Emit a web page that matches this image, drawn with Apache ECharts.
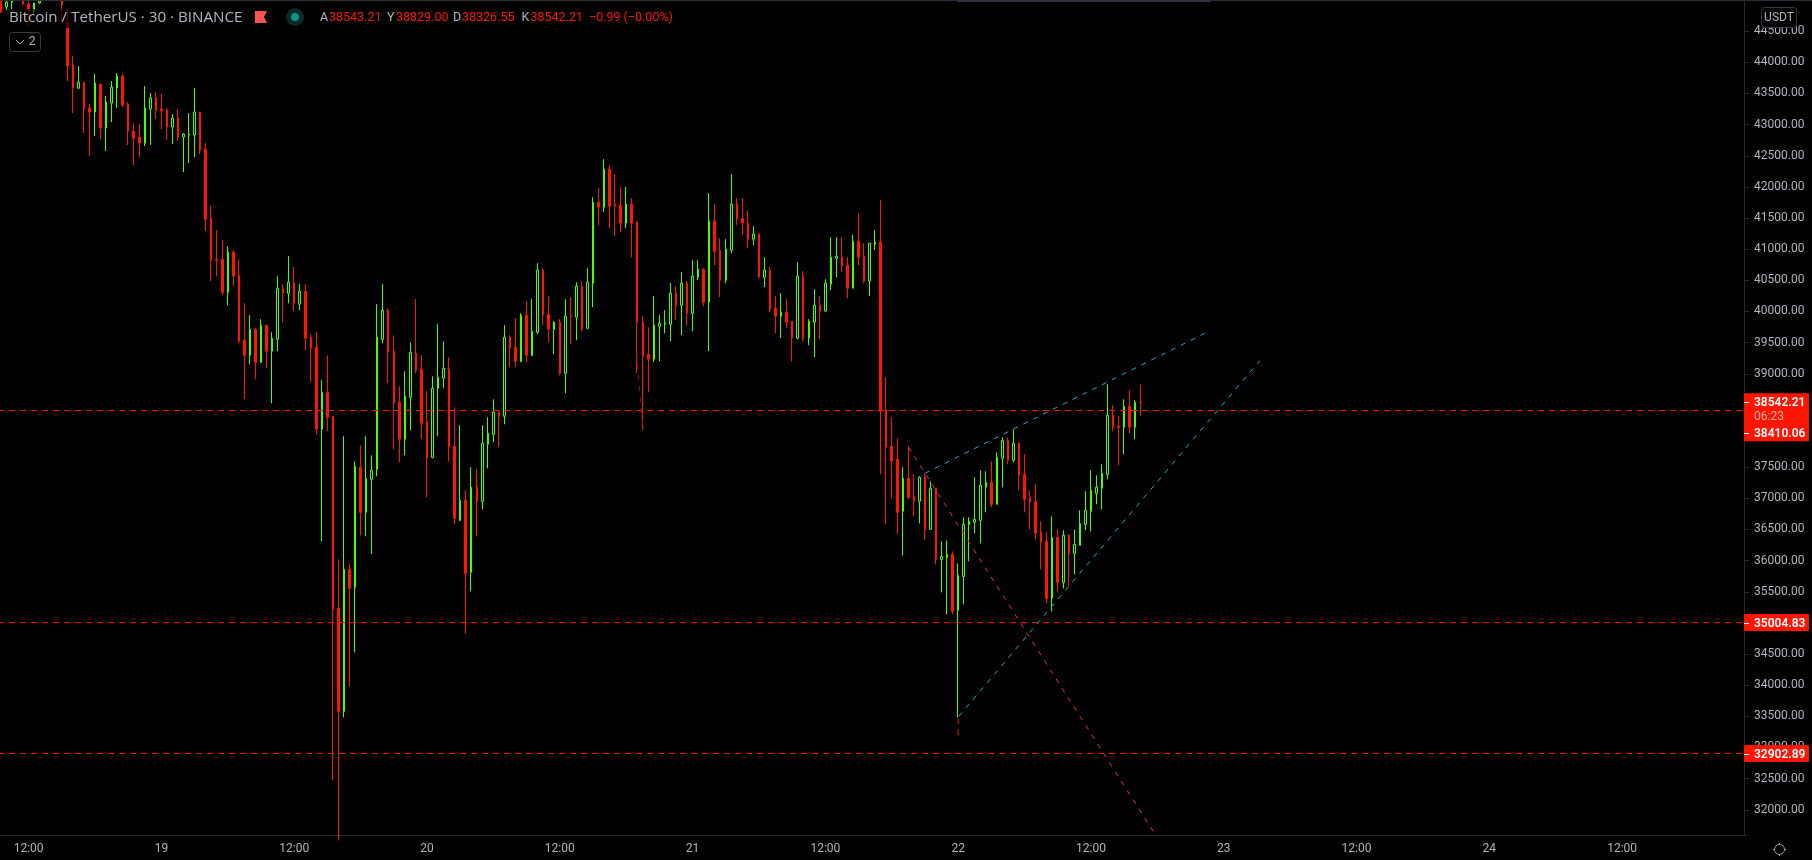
<!DOCTYPE html>
<html lang="en">
<head>
    <meta charset="UTF-8">
    <title>Bitcoin / TetherUS</title>
    <style>
        html, body { margin: 0; padding: 0; background: #000; }
    </style>
</head>
<body>
    <div id="main" style="width: 1812px;height:860px;"></div>

    <script src="https://cdn.jsdelivr.net/npm/echarts@6/dist/echarts.min.js"></script>
    <script type="text/javascript">
        // 30 minute candles
        var opens = [
            45080,44888,44968,45200,45020,44936,44823,44952,45150,45200,
            45300,44984,44647,43956,43586,43683,43265,43201,43651,42944,
            43345,43586,43779,43329,42896,42799,42703,43249,43426,43249,
            43233,42960,43104,42799,42831,42831,43201,42606,41498,40839,
            40839,40309,40952,40582,39538,39297,39715,39185,39779,39362,
            39554,40358,40293,40454,40117,40325,39586,39426,38109,38703,
            38317,35233,33578,35860,35570,37498,36775,37305,37466,39554,
            40020,39362,38542,37948,38622,39329,39072,38221,37659,38767,
            38928,39072,37835,36647,36968,35811,37177,36952,37868,38028,
            38382,38317,39586,39426,39201,39940,39297,39667,40663,39956,
            39715,39827,39008,39924,39908,40406,39731,40454,41755,41675,
            42285,41723,41707,41418,41723,41434,39827,39313,39233,39763,
            39795,39795,40293,40100,40454,39972,40550,40679,40149,41450,
            40984,40502,40984,41723,41498,41418,41161,41241,40550,40663,
            40052,39924,39988,39843,39570,40566,39570,39827,40100,40004,
            40438,40855,40871,40743,40374,41129,40888,40486,41080,41112,
            38430,37835,37627,36791,37321,37032,36952,37337,36502,37161,
            36020,36052,36101,35201,35747,36582,36615,36647,37177,37257,
            36904,37643,37932,37611,37884,37386,37016,36952,36454,36309,
            35394,36373,35651,36406,36117,36245,36582,36791,37080,37161,
            37386,38333,38157,38141,38478,38141,38543.21
        ];
        var closes = [
            44807,44968,44984,45100,44936,44823,44952,44984,45200,45300,
            45150,44920,43940,43586,43683,43249,43201,43667,42944,43361,
            43602,43779,43313,42896,42783,42703,43265,43426,43233,43217,
            42960,43104,42799,42847,42847,43201,42590,41482,40823,40823,
            40309,40952,40566,39522,39297,39715,39185,39779,39362,39570,
            40374,40293,40470,40133,40325,39570,39410,38109,38703,38301,
            35217,33578,35860,35554,37514,36775,37321,37450,39586,40020,
            39345,38526,37948,38639,39345,39056,38205,37643,38767,38944,
            39088,37819,36679,36968,35795,37177,36952,37884,38044,38382,
            38317,39586,39410,39201,39940,39297,39683,40663,39940,39715,
            39827,39008,39924,39908,40406,39715,40470,41755,41675,42285,
            41691,41691,41418,41723,41418,39827,39297,39233,39779,39811,
            39811,40293,40100,40454,39972,40566,40679,40149,41450,40968,
            40502,41000,41723,41482,41418,41161,41241,40550,40663,40036,
            39924,39988,39827,39570,40566,39570,39843,40100,40004,40454,
            40871,40888,40727,40374,41129,40871,40486,41096,41112,38398,
            37819,37594,36775,37321,37016,36952,37337,36502,37161,36020,
            36068,36101,35185,35763,36582,36631,36663,37209,37257,36904,
            37659,37932,37611,37884,37369,36984,36936,36438,36293,35394,
            36373,35651,36406,36117,36261,36598,36807,37129,37177,37402,
            38333,38141,38141,38478,38141,38542,38542.21
        ];
        var highs = [
            45100,45000,45000,45300,45050,45000,44952,45000,45300,45350,
            45350,45060,44855,44100,43940,43683,43329,43811,43651,43458,
            43699,43827,43811,43361,43024,43008,43618,43506,43522,43490,
            43265,43169,43249,42863,43185,43586,43201,42703,41691,41305,
            41145,41048,40984,40839,40133,39940,39731,39876,39779,39667,
            40566,40438,40888,40711,40438,40438,39635,39667,38896,39297,
            38317,36020,37996,35940,37594,37851,37996,37691,40117,40438,
            40052,39619,38799,39040,39506,40197,39297,38719,38960,39795,
            39522,39265,38462,38173,37129,37498,37466,38173,38301,38590,
            38414,39779,39619,39892,39972,40165,40197,40775,40695,40245,
            39843,39876,40197,40229,40470,40486,40695,41835,41980,42446,
            42349,42205,41996,41996,41819,41450,39924,39747,40245,39940,
            40020,40454,40406,40631,40486,40823,40823,40695,41900,41723,
            41177,41161,42205,41819,41819,41627,41370,41257,40871,40711,
            40245,40293,40197,39843,40791,40647,39876,40357,40245,40518,
            41193,41193,41193,40871,41225,41578,41096,41096,41305,41787,
            38944,38301,37964,37498,37835,37386,37354,37402,37273,37161,
            36309,36325,36149,35956,36695,36695,37337,37450,37434,37594,
            37739,37980,37980,38108,37900,37707,37129,37225,36631,36454,
            36711,36502,36486,36422,36502,36807,37113,37450,37370,37546,
            38831,38494,38317,38590,38735,38574,38829
        ];
        var lows = [
            44791,44839,44839,45050,44920,44582,44759,44936,45050,45100,
            45080,44647,43699,43185,43570,42863,42494,42815,42767,42574,
            43040,43265,43281,42671,42349,42478,42655,42671,43088,42928,
            42751,42687,42735,42237,42382,42478,42526,41289,40486,40566,
            40261,40100,40406,39490,38590,39153,38912,39169,39088,38526,
            39362,39827,40133,40004,40020,39378,38864,38028,36309,38076,
            32470,31506,33482,33980,34526,36406,36390,36101,37354,39490,
            38847,37787,37578,37691,38092,39008,37948,37016,37643,37996,
            38767,37594,36582,36631,34831,35506,36390,36823,37482,37900,
            37819,38189,39104,39104,39185,39185,39281,39635,39779,39506,
            39313,38976,38687,39474,39538,39683,39715,40068,41386,41594,
            41337,41209,41273,41337,40871,39008,38092,38703,39185,39201,
            39651,39522,39859,39619,39779,39683,40502,40084,39362,40743,
            40229,40454,40936,41386,41225,41016,41064,40534,40390,39988,
            39651,39570,39731,39201,39554,39522,39458,39265,39554,40004,
            40341,40550,40631,40213,40374,40743,40454,40245,40984,37386,
            36582,37000,36422,36084,36984,36711,36598,36325,36502,35940,
            35490,35137,35137,33482,35297,35988,36438,36277,36775,36856,
            36904,37177,37546,37578,37129,36775,36502,36341,35859,35313,
            35185,35490,35554,35587,35779,36245,36486,36470,36904,36823,
            37305,38076,37530,37707,38044,37948,38326.55
        ];

        // time axis: one slot per 30 minutes, with room to the right of the last candle
        var slotCount = 316;
        var xTickSlots = [5, 29, 53, 77, 101, 125, 149, 173, 197, 221, 245, 269, 293];
        var xTickLabels = ['12:00', '19', '12:00', '20', '12:00', '21', '12:00', '22', '12:00', '23', '12:00', '24', '12:00'];

        var yTicks = [32000, 32500, 33000, 33500, 34000, 34500, 35000, 35500, 36000, 36500, 37000, 37500, 38000,
            38500, 39000, 39500, 40000, 40500, 41000, 41500, 42000, 42500, 43000, 43500, 44000, 44500];

        // horizontal levels
        var levels = [38410.06, 35004.83, 32902.89];
        var currentPrice = 38542.21;
        var countdown = '06:23';

        // hand drawn lines, as [slot, price]
        var redDiagonal = [[164, 37824], [208.36, 31640]];
        var cyanUpper = [[167, 37402], [217.6, 39651]];
        var cyanLower = [[173.1, 33498], [227.5, 39209]];
        var redStub = [[173, 33466], [173, 33176]];
        var dimStub = [[114.9, 39329], [115.95, 38173]];

        var legendValues = ['38543.21', '38829.00', '38326.55', '38542.21'];
        var legendLetters = ['A', 'Y', 'D', 'K'];
        var legendChange = '\u22120.99 (\u22120.00%)';

        var FONT = 'Roboto, "Liberation Sans", sans-serif';
        var RED = '#ff1500';
        var GREEN = '#48ff00';
        var TEXT = '#b2b5be';
        var LINE = '#2a2a2e';

        var slotWidth = 5.533;
        var gridLeft = -1.83;
        var gridHeight = 835;
        var axisX = 1744;
        var gridWidth = slotCount * slotWidth;

        var categories = [];
        for (var i = 0; i < slotCount; i++) {
            categories.push(String(i));
        }
        var candles = [];
        for (var j = 0; j < opens.length; j++) {
            candles.push([opens[j], closes[j], lows[j], highs[j]]);
        }

        function trendSeries(points, color, dash) {
            return {
                type: 'line',
                xAxisIndex: 1,
                data: points,
                symbol: 'none',
                silent: true,
                animation: false,
                z: 3,
                lineStyle: { color: color, width: 1, type: dash }
            };
        }

        var series = [{
            type: 'candlestick',
            xAxisIndex: 0,
            data: candles,
            barWidth: 2,
            silent: true,
            animation: false,
            z: 2,
            itemStyle: {
                color: '#000',
                color0: RED,
                borderColor: GREEN,
                borderColor0: RED,
                borderWidth: 1
            }
        }];
        levels.forEach(function (v) {
            series.push(trendSeries([[-0.5, v], [315.5, v]], RED, [6, 5]));
        });
        series.push(trendSeries(redDiagonal, '#e0352c', [5, 6]));
        series.push(trendSeries(cyanUpper, '#14adc6', [5, 6]));
        series.push(trendSeries(cyanLower, '#14adc6', [5, 6]));
        series.push(trendSeries(redStub, RED, [6, 5]));
        series.push(trendSeries(dimStub, '#8a1410', [5, 6]));

        var myChart = echarts.init(document.getElementById('main'), null, { renderer: 'canvas' });
        var option = {
            backgroundColor: '#000',
            animation: false,
            grid: { left: gridLeft, top: 0, width: gridWidth, height: gridHeight, outerBoundsMode: 'none' },
            xAxis: [{
                type: 'category',
                data: categories,
                boundaryGap: true,
                axisLine: { onZero: false, lineStyle: { color: LINE } },
                axisTick: {
                    length: 5,
                    alignWithLabel: true,
                    lineStyle: { color: LINE },
                    interval: function (idx) { return xTickSlots.indexOf(idx) >= 0; }
                },
                axisLabel: {
                    margin: 8,
                    color: TEXT,
                    fontFamily: FONT,
                    fontSize: 12,
                    interval: function (idx) { return xTickSlots.indexOf(idx) >= 0; },
                    formatter: function (v, idx) { return xTickLabels[xTickSlots.indexOf(idx)]; }
                },
                splitLine: { show: false }
            }, {
                type: 'value',
                show: false,
                min: -0.5,
                max: slotCount - 0.5
            }],
            yAxis: {
                type: 'value',
                position: 'right',
                offset: axisX - (gridLeft + gridWidth),
                // chosen so the three levels land on whole pixel rows
                min: 31594.7,
                max: 45000.64,
                axisLine: { show: true, onZero: false, lineStyle: { color: LINE } },
                axisTick: { show: true, length: 5, lineStyle: { color: LINE }, customValues: yTicks },
                axisLabel: {
                    margin: 10,
                    padding: [2, 0, 0, 0],
                    color: TEXT,
                    fontFamily: FONT,
                    fontSize: 12,
                    customValues: yTicks,
                    formatter: function (v) { return v.toFixed(2); }
                },
                splitLine: { show: false }
            },
            series: series
        };
        myChart.setOption(option);

        function py(v) {
            return myChart.convertToPixel({ yAxisIndex: 0 }, v);
        }

        function txt(x, y, text, color, size, weight, align, family) {
            return {
                type: 'text',
                z: 110,
                silent: true,
                style: {
                    x: x, y: y + 1, text: text, fill: color,
                    font: (weight || 'normal') + ' ' + (size || 12) + 'px ' + (family || FONT),
                    align: align || 'left', verticalAlign: 'middle'
                }
            };
        }

        var gfx = [];
        function rect(x, y, w, h, fill, extra) {
            var s = { type: 'rect', z: 100, silent: true, shape: { x: x, y: y, width: w, height: h, r: (extra && extra.r) || 0 }, style: { fill: fill } };
            if (extra && extra.stroke) {
                s.style.stroke = extra.stroke;
                s.style.lineWidth = 1;
            }
            gfx.push(s);
        }
        function seg(x1, y1, x2, y2, color) {
            gfx.push({ type: 'line', z: 105, silent: true, shape: { x1: x1, y1: y1, x2: x2, y2: y2 }, style: { stroke: color, lineWidth: 1 } });
        }

        // top strip
        rect(0, 0, 1812, 1, '#2a2e39');
        rect(957, 0, 254, 2, '#2e3240');

        // price tags over the axis
        var tagX = axisX;
        var tagW = 65;
        var curY = py(currentPrice);
        rect(tagX, curY - 9, tagW, 48, RED, { r: 1 });
        seg(tagX, Math.round(curY) + 0.5, tagX + 5, Math.round(curY) + 0.5, '#fff');
        gfx.push(txt(tagX + 10, curY, currentPrice.toFixed(2), '#fff', 12, 600));
        gfx.push(txt(tagX + 10, curY + 14, countdown, '#ffb3a8', 12));
        // the 38410.06 tag is pushed below the countdown, as in the original
        seg(tagX, Math.round(curY + 30.5) + 0.5, tagX + 5, Math.round(curY + 30.5) + 0.5, '#fff');
        gfx.push(txt(tagX + 10, curY + 30.5, levels[0].toFixed(2), '#fff', 12, 600));
        levels.slice(1).forEach(function (v) {
            var y = py(v);
            rect(tagX, y - 8.5, tagW, 17, RED, { r: 1 });
            seg(tagX, Math.round(y) + 0.5, tagX + 5, Math.round(y) + 0.5, '#fff');
            gfx.push(txt(tagX + 10, y, v.toFixed(2), '#fff', 12, 600));
        });

        // USDT box
        rect(1761.5, 7.5, 35, 20, '#000', { r: 3, stroke: '#363a45' });
        gfx.push(txt(1779, 17, 'USDT', TEXT, 12, 'normal', 'center'));

        // gear icon
        gfx.push({ type: 'circle', z: 105, silent: true, shape: { cx: 1779.5, cy: 849.5, r: 5 }, style: { fill: 'none', stroke: '#9a9da6', lineWidth: 1 } });
        seg(1779.5, 843, 1779.5, 845, '#9a9da6');
        seg(1779.5, 854, 1779.5, 856, '#9a9da6');
        seg(1773, 849.5, 1775, 849.5, '#9a9da6');
        seg(1784, 849.5, 1786, 849.5, '#9a9da6');

        // legend
        rect(8, 9, 238, 19, 'rgba(0,0,0,0.65)');
        gfx.push(txt(9, 17, 'Bitcoin / TetherUS \u00b7 30 \u00b7 BINANCE', TEXT, 15.2, 'normal', 'left', '"Open Sans", sans-serif'));
        gfx.push({ type: 'polygon', z: 105, silent: true, shape: { points: [[255, 11], [267, 11], [264, 17], [267, 23], [255, 23]] }, style: { fill: '#ff5252' } });
        gfx.push({ type: 'circle', z: 105, silent: true, shape: { cx: 295, cy: 17, r: 9 }, style: { fill: '#0b2a28' } });
        gfx.push({ type: 'circle', z: 106, silent: true, shape: { cx: 295, cy: 17, r: 4 }, style: { fill: '#089981' } });
        var legendX = [320, 387, 453, 521.5];
        legendLetters.forEach(function (l, k) {
            gfx.push(txt(legendX[k], 17, l, TEXT, 12.5));
            gfx.push(txt(legendX[k] + 9, 17, legendValues[k], RED, 12.5));
        });
        gfx.push(txt(589, 17, legendChange, RED, 12.5));

        // collapsed indicators box
        rect(9.5, 32.5, 31, 19, '#000', { r: 3, stroke: '#363a45' });
        gfx.push({ type: 'polyline', z: 105, silent: true, shape: { points: [[16, 40], [20, 44], [24, 40]] }, style: { fill: 'none', stroke: TEXT, lineWidth: 1 } });
        gfx.push(txt(32, 41, '2', TEXT, 12, 'normal', 'center'));

        myChart.setOption({ graphic: { elements: gfx } });
    </script>
</body>
</html>
